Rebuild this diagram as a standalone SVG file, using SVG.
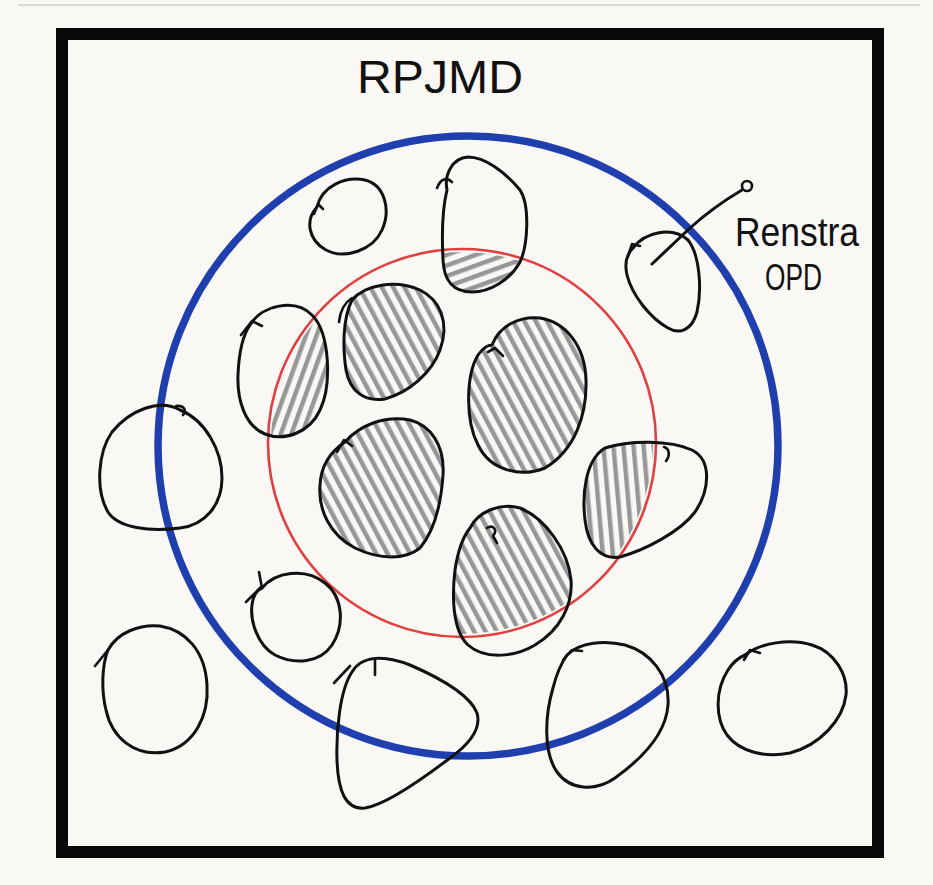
<svg xmlns="http://www.w3.org/2000/svg" width="933" height="885" viewBox="0 0 933 885">
<style>
.ol{fill:none;stroke:#111;stroke-width:3;stroke-linecap:round;stroke-linejoin:round}
.hk{fill:none;stroke:#111;stroke-width:2.6;stroke-linecap:round;stroke-linejoin:round}
.hand{font-family:"Liberation Sans","DejaVu Sans",sans-serif;fill:#111}
.hs{fill:#979797}
</style>
<defs>
<clipPath id="redClip"><circle cx="462" cy="443" r="191"/></clipPath>
<pattern id="hA" patternUnits="userSpaceOnUse" width="10" height="10" patternTransform="rotate(-28)"><rect class="hs" x="0" y="0" width="4.5" height="10"/></pattern>
<pattern id="hB" patternUnits="userSpaceOnUse" width="10" height="10" patternTransform="rotate(20)"><rect class="hs" x="0" y="0" width="4.5" height="10"/></pattern>
<pattern id="hC" patternUnits="userSpaceOnUse" width="10" height="10" patternTransform="rotate(70)"><rect class="hs" x="0" y="0" width="4.5" height="10"/></pattern>
<pattern id="hD" patternUnits="userSpaceOnUse" width="10" height="10" patternTransform="rotate(-5)"><rect class="hs" x="0" y="0" width="4.5" height="10"/></pattern>
<path id="p2" d="M 447 190 C 444 175, 452 158, 468 157 C 485 157, 505 172, 520 190 C 530 205, 528 245, 520 262 C 510 280, 490 292, 472 292 C 452 292, 444 280, 443 260 C 442 240, 442 210, 447 190 Z"/>
<path id="p4" d="M 250 325 C 262 305, 295 298, 312 315 C 330 333, 332 385, 320 410 C 310 432, 285 442, 265 434 C 245 426, 237 400, 238 375 C 239 350, 243 335, 250 325 Z"/>
<path id="p5" d="M 352 300 C 365 285, 395 279, 420 290 C 440 300, 450 322, 440 350 C 432 372, 410 392, 385 399 C 365 402, 350 392, 346 370 C 343 350, 342 320, 352 300 Z"/>
<path id="p6" d="M 492 345 C 500 325, 520 316, 540 318 C 565 322, 585 345, 586 380 C 587 415, 575 450, 545 468 C 520 478, 490 470, 478 445 C 465 420, 466 375, 478 355 C 483 348, 487 345, 492 345 Z"/>
<path id="p8" d="M 345 442 C 360 425, 385 415, 410 420 C 430 425, 445 445, 443 475 C 441 505, 435 530, 420 548 C 405 560, 380 560, 355 548 C 330 535, 318 510, 320 485 C 321 465, 330 452, 345 442 Z"/>
<path id="p9" d="M 605 448 C 630 440, 670 440, 692 450 C 712 460, 710 490, 695 512 C 680 532, 645 550, 620 557 C 600 560, 588 545, 585 520 C 582 495, 585 460, 605 448 Z"/>
<path id="p10" d="M 470 528 C 478 512, 500 502, 520 508 C 545 518, 568 550, 571 580 C 573 605, 560 630, 535 645 C 515 657, 485 660, 468 645 C 452 630, 452 595, 455 570 C 458 550, 462 538, 470 528 Z"/>
</defs>
<rect width="933" height="885" fill="#faf8f5"/>
<line x1="18" y1="5" x2="920" y2="5" stroke="#d9d9d9" stroke-width="2"/>
<rect x="62" y="34" width="816" height="818" fill="#faf8f5" stroke="#0a0a0a" stroke-width="12"/>
<text class="hand" x="357" y="93" font-size="46" textLength="166" lengthAdjust="spacingAndGlyphs">RPJMD</text>
<circle id="rpjmd-ring" cx="468" cy="446" r="310" fill="none" stroke="#1f3fae" stroke-width="7.5"/>
<circle id="inner-ring" cx="462" cy="443" r="194" fill="none" stroke="#e0403f" stroke-width="2.6"/>

<g id="blob1"><path class="ol" d="M 317 207 C 322 186, 345 176, 365 180 C 385 185, 391 210, 382 230 C 373 250, 345 260, 326 250 C 308 240, 305 220, 317 207 Z"/><path class="hk" d="M 314 214 L 318 204 L 323 209"/></g>
<g id="blob2"><use href="#p2" fill="url(#hC)" clip-path="url(#redClip)"/><use href="#p2" class="ol"/><path class="hk" d="M 437 188 C 440 180, 446 176, 452 182"/></g>
<g id="blob3"><path class="ol" d="M 633 248 C 645 232, 672 226, 688 240 C 700 255, 702 290, 697 312 C 692 330, 680 335, 668 328 C 650 318, 632 295, 627 275 C 624 262, 627 254, 633 248 Z"/><path class="hk" d="M 628 256 L 632 244 L 640 246"/></g>
<g id="blob4"><use href="#p4" fill="url(#hB)" clip-path="url(#redClip)"/><use href="#p4" class="ol"/><path class="hk" d="M 241 335 L 252 321 L 262 326"/></g>
<g id="blob5"><use href="#p5" fill="url(#hA)" clip-path="url(#redClip)"/><use href="#p5" class="ol"/><path class="hk" d="M 339 322 C 340 312, 344 303, 352 298"/></g>
<g id="blob6"><use href="#p6" fill="url(#hA)" clip-path="url(#redClip)"/><use href="#p6" class="ol"/><path class="hk" d="M 488 352 L 495 348 L 503 356"/></g>
<g id="blob7"><path class="ol" d="M 180 410 C 160 398, 130 410, 112 432 C 98 452, 95 490, 108 512 C 118 528, 150 532, 180 528 C 205 525, 222 505, 222 478 C 222 450, 205 420, 180 410 Z"/><path class="hk" d="M 176 406 C 184 405, 187 410, 183 415"/></g>
<g id="blob8"><use href="#p8" fill="url(#hA)" clip-path="url(#redClip)"/><use href="#p8" class="ol"/><path class="hk" d="M 337 452 L 344 440 L 352 446"/></g>
<g id="blob9"><use href="#p9" fill="url(#hD)" clip-path="url(#redClip)"/><use href="#p9" class="ol"/><path class="hk" d="M 664 447 C 670 449, 670 456, 666 461"/></g>
<g id="blob10"><use href="#p10" fill="url(#hA)" clip-path="url(#redClip)"/><use href="#p10" class="ol"/><path class="hk" d="M 487 528 C 493 524, 498 530, 493 536 L 497 543"/></g>
<g id="blob11"><path class="ol" d="M 262 588 C 275 572, 305 567, 325 583 C 343 597, 345 625, 332 645 C 320 663, 295 665, 275 655 C 257 645, 250 620, 252 605 C 253 596, 257 590, 262 588 Z"/><path class="hk" d="M 246 602 L 262 586 M 259 572 L 262 588"/></g>
<g id="blob12"><path class="ol" d="M 108 650 C 118 632, 140 624, 160 626 C 185 630, 205 650, 207 685 C 209 715, 195 745, 165 752 C 135 757, 112 738, 106 710 C 101 690, 102 665, 108 650 Z"/><path class="hk" d="M 95 666 L 108 650"/></g>
<g id="blob13"><path class="ol" d="M 352 672 C 362 655, 385 655, 410 665 C 440 678, 470 695, 477 713 C 482 730, 468 745, 450 758 C 425 777, 385 805, 365 808 C 345 810, 338 790, 337 760 C 336 730, 340 690, 352 672 Z"/><path class="hk" d="M 334 683 L 350 666 M 375 660 L 375 675"/></g>
<g id="blob14"><path class="ol" d="M 567 655 C 580 642, 605 640, 625 645 C 650 652, 670 675, 668 705 C 666 735, 640 760, 615 778 C 595 792, 570 790, 557 772 C 543 752, 545 715, 553 688 C 557 672, 562 662, 567 655 Z"/><path class="hk" d="M 563 660 L 572 650 L 582 651"/></g>
<g id="blob15"><path class="ol" d="M 745 655 C 760 643, 790 638, 812 645 C 835 652, 848 675, 846 695 C 843 720, 820 745, 790 753 C 765 758, 740 752, 727 735 C 715 718, 715 690, 728 670 C 733 662, 738 658, 745 655 Z"/><path class="hk" d="M 744 660 L 750 650 L 760 653"/></g>

<g id="connectors"><path class="ol" d="M 652 264 L 690 228 C 710 210, 725 200, 742 190"/><circle cx="747" cy="186" r="5" fill="none" stroke="#111" stroke-width="2.6"/></g>
<g id="label-renstra"><text class="hand" x="735" y="246" font-size="40" textLength="124" lengthAdjust="spacingAndGlyphs">Renstra</text><text class="hand" x="765" y="290" font-size="36" textLength="57" lengthAdjust="spacingAndGlyphs">OPD</text></g>
</svg>
